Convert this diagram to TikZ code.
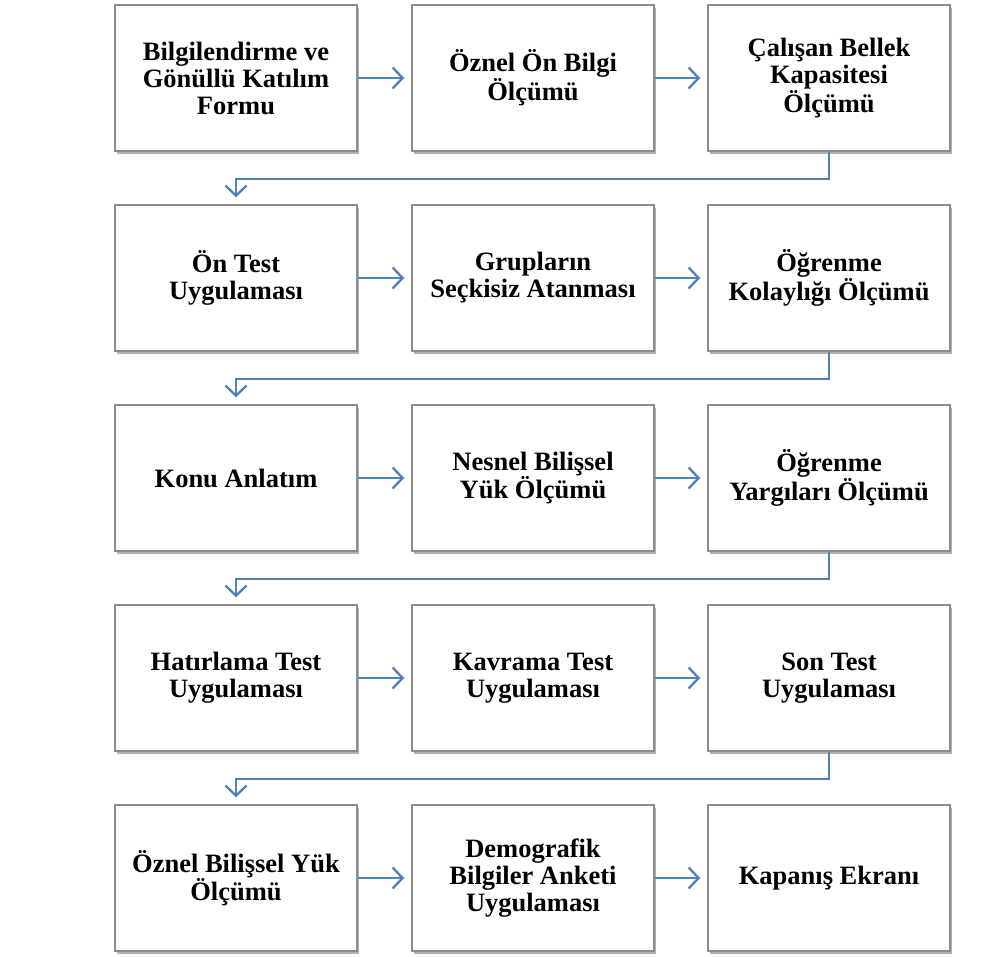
\documentclass[tikz,border=0pt]{standalone}
\usepackage{fontspec}
\setmainfont{Liberation Serif}
\usepackage{tikz}
\usetikzlibrary{arrows.meta}
\usetikzlibrary{shadows}

\definecolor{flowblue}{RGB}{79,129,189}
\definecolor{boxgray}{RGB}{140,140,140}

\begin{document}
\begin{tikzpicture}[x=1pt, y=-1pt,
    every node/.style={font=\bfseries\fontsize{26.5}{27}\selectfont, align=center},
    stepbox/.style={draw=boxgray, line width=1.5pt, fill=white, minimum width=242pt,
        minimum height=146pt, inner sep=0pt,
        drop shadow={shadow xshift=2pt, shadow yshift=-3pt, opacity=0.3, fill=black}},
    flow/.style={draw=flowblue, line width=2.4pt, -{Straight Barb[length=10pt, width=21pt]},
        shorten >=7pt}]
            \useasboundingbox (0,0) rectangle (981,956);

            % row 1
            \node[stepbox] (r1c1) at (236,78) {Bilgilendirme ve\\Gönüllü Katılım\\Formu};
            \node[stepbox] (r1c2) at (533,78) {Öznel Ön Bilgi\\Ölçümü};
            \node[stepbox] (r1c3) at (829,78) {Çalışan Bellek\\Kapasitesi\\Ölçümü};

            % row 2
            \node[stepbox] (r2c1) at (236,278) {Ön Test\\Uygulaması};
            \node[stepbox] (r2c2) at (533,278) {Grupların\\Seçkisiz Atanması};
            \node[stepbox] (r2c3) at (829,278) {Öğrenme\\Kolaylığı Ölçümü};

            % row 3
            \node[stepbox] (r3c1) at (236,478) {Konu Anlatım};
            \node[stepbox] (r3c2) at (533,478) {Nesnel Bilişsel\\Yük Ölçümü};
            \node[stepbox] (r3c3) at (829,478) {Öğrenme\\Yargıları Ölçümü};

            % row 4
            \node[stepbox] (r4c1) at (236,678) {Hatırlama Test\\Uygulaması};
            \node[stepbox] (r4c2) at (533,678) {Kavrama Test\\Uygulaması};
            \node[stepbox] (r4c3) at (829,678) {Son Test\\Uygulaması};

            % row 5
            \node[stepbox] (r5c1) at (236,878) {Öznel Bilişsel Yük\\Ölçümü};
            \node[stepbox] (r5c2) at (533,878) {Demografik\\Bilgiler Anketi\\Uygulaması};
            \node[stepbox] (r5c3) at (829,878) {Kapanış Ekranı};

            % arrows within rows
            \draw[flow] (r1c1) -- (r1c2);
            \draw[flow] (r1c2) -- (r1c3);
            \draw[flow] (r2c1) -- (r2c2);
            \draw[flow] (r2c2) -- (r2c3);
            \draw[flow] (r3c1) -- (r3c2);
            \draw[flow] (r3c2) -- (r3c3);
            \draw[flow] (r4c1) -- (r4c2);
            \draw[flow] (r4c2) -- (r4c3);
            \draw[flow] (r5c1) -- (r5c2);
            \draw[flow] (r5c2) -- (r5c3);

            % arrows between rows
            \draw[flow] (r1c3.south) -- ++(0,27) -| (r2c1.north);
            \draw[flow] (r2c3.south) -- ++(0,27) -| (r3c1.north);
            \draw[flow] (r3c3.south) -- ++(0,27) -| (r4c1.north);
            \draw[flow] (r4c3.south) -- ++(0,27) -| (r5c1.north);
        \end{tikzpicture}
\end{document}
